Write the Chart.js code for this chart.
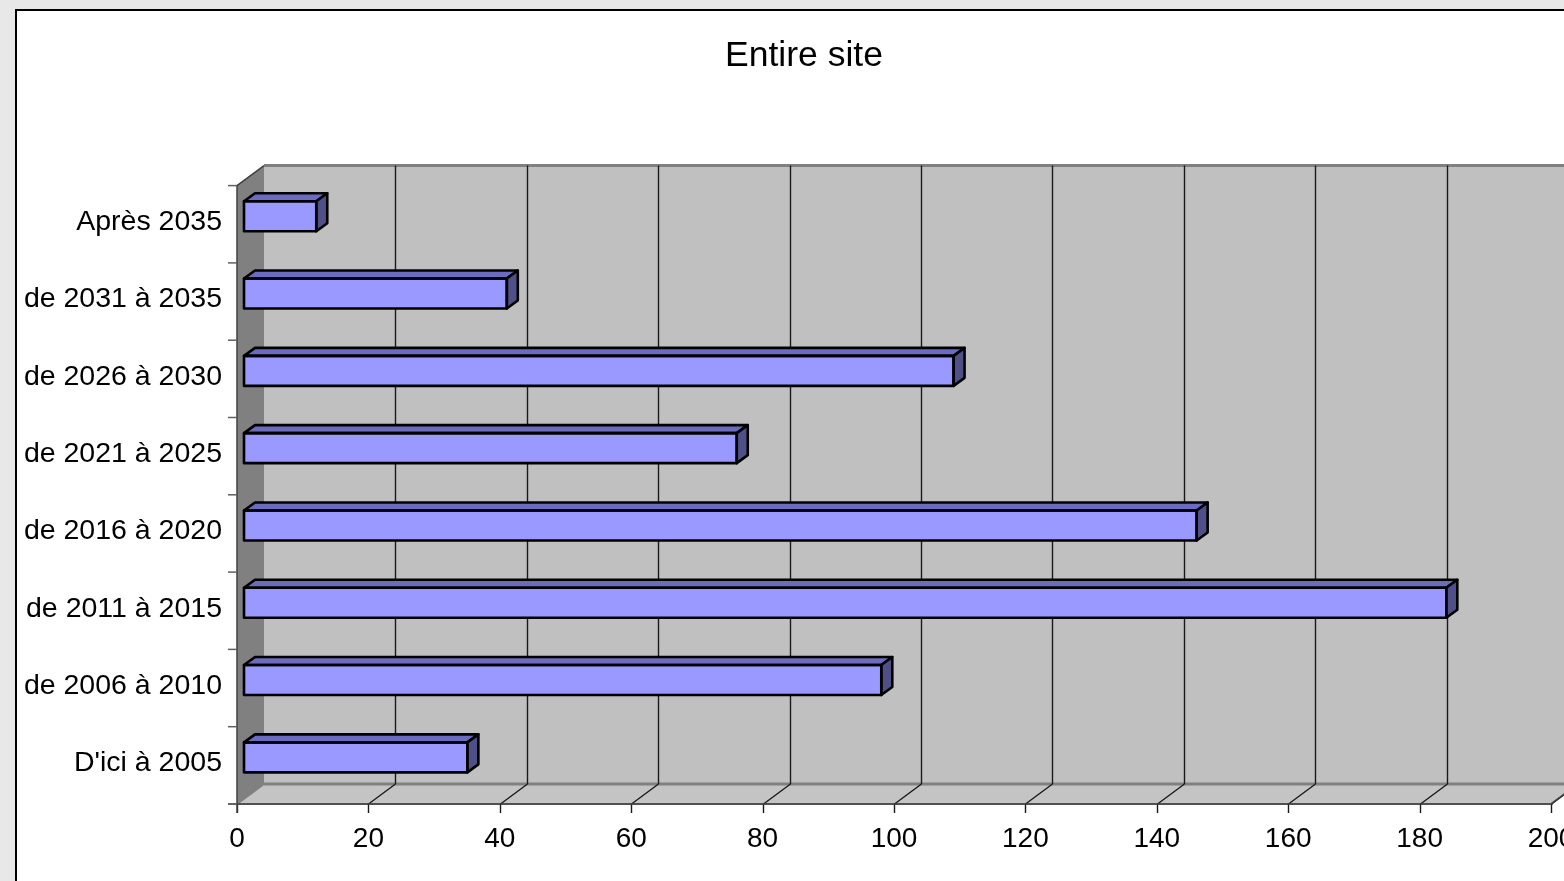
<!DOCTYPE html>
<html>
<head>
<meta charset="utf-8">
<title>Entire site</title>
<script src="https://cdn.jsdelivr.net/npm/chart.js@4"></script>
<style>
    html, body {
        margin: 0;
        padding: 0;
        width: 1564px;
        height: 881px;
        overflow: hidden;
        background: #e8e8e8;
    }
    .frame {
        position: absolute;
        left: 15px;
        top: 9px;
        width: 1700px;
        height: 920px;
        background: #fff;
        border: 2px solid #000;
    }
    #chart {
        position: absolute;
        left: 0;
        top: 0;
    }
</style>
</head>
<body>
<div class="frame"></div>
<canvas id="chart" width="1608" height="900"></canvas>
<script>
// categories, oldest first (axis is reversed so the latest sits on top)
const periods = [
    "D'ici à 2005",
    'de 2006 à 2010',
    'de 2011 à 2015',
    'de 2016 à 2020',
    'de 2021 à 2025',
    'de 2026 à 2030',
    'de 2031 à 2035',
    'Après 2035'
];
const counts = [34, 97, 183, 145, 75, 108, 40, 11];
const xTicks = [0, 20, 40, 60, 80, 100, 120, 140, 160, 180, 200];

// 3D look: offsets from the bar plane to the front / back planes
const FRONT = { x: -7, y: 8 };
const BACK = { x: 20, y: -12 };
const BAR_DEPTH = { x: 11, y: -8 };

const fontFamily = '"Liberation Sans", Arial, sans-serif';

const walls3d = {
    id: 'walls3d',
    beforeDatasetsDraw(chart) {
        const { ctx, chartArea: a, scales } = chart;
        const fl = a.left + FRONT.x, ft = a.top + FRONT.y, fb = a.bottom + FRONT.y;
        const fr = a.right + FRONT.x;
        const bl = a.left + BACK.x, bt = a.top + BACK.y, bb = a.bottom + BACK.y;
        const br = a.right + BACK.x;
        ctx.save();

        // back wall
        ctx.fillStyle = '#c0c0c0';
        ctx.fillRect(bl, bt, br - bl + 200, bb - bt);

        // floor
        ctx.beginPath();
        ctx.moveTo(fl, fb);
        ctx.lineTo(fr, fb);
        ctx.lineTo(br, bb);
        ctx.lineTo(bl, bb);
        ctx.closePath();
        ctx.fillStyle = '#c4c4c4';
        ctx.fill();
        ctx.strokeStyle = '#808080';
        ctx.lineWidth = 2;
        ctx.stroke();

        // left side wall
        ctx.beginPath();
        ctx.moveTo(fl, ft);
        ctx.lineTo(bl, bt);
        ctx.lineTo(bl, bb);
        ctx.lineTo(fl, fb);
        ctx.closePath();
        ctx.fillStyle = '#808080';
        ctx.fill();

        // back wall top and bottom edges
        ctx.strokeStyle = '#808080';
        ctx.lineWidth = 3;
        ctx.beginPath();
        ctx.moveTo(bl, bt);
        ctx.lineTo(br + 200, bt);
        ctx.moveTo(bl, bb);
        ctx.lineTo(br + 200, bb);
        ctx.stroke();

        // gridlines on the back wall + floor diagonals
        const x = scales.x;
        ctx.strokeStyle = '#1a1a1a';
        ctx.lineWidth = 1.4;
        xTicks.forEach(v => {
            const px = Math.round(x.getPixelForValue(v)) + 0.5;
            ctx.beginPath();
            if (v > 0 && v < 200) {
                ctx.moveTo(px + BACK.x, bt);
                ctx.lineTo(px + BACK.x, bb);
            }
            if (v > 0) {
                ctx.moveTo(px + FRONT.x, fb);
                ctx.lineTo(px + BACK.x, bb);
            }
            // tick mark below the front edge
            ctx.moveTo(px + FRONT.x, fb);
            ctx.lineTo(px + FRONT.x, fb + 9);
            ctx.stroke();
        });

        // front edges of the axes
        ctx.strokeStyle = '#404040';
        ctx.lineWidth = 1.5;
        ctx.beginPath();
        ctx.moveTo(fl - 9, fb);
        ctx.lineTo(fr + 2, fb);
        ctx.moveTo(fl, ft);
        ctx.lineTo(fl, fb + 9);
        ctx.moveTo(fl, ft);
        ctx.lineTo(bl, bt);
        ctx.moveTo(fr, fb);
        ctx.lineTo(br, bb);
        ctx.stroke();

        // category tick marks on the left
        ctx.strokeStyle = '#606060';
        ctx.lineWidth = 1.5;
        const band = (fb - ft) / periods.length;
        for (let i = 0; i <= periods.length; i++) {
            const py = ft + band * i;
            ctx.beginPath();
            ctx.moveTo(fl - 9, py);
            ctx.lineTo(fl, py);
            ctx.stroke();
        }
        ctx.restore();
    },
    afterDatasetsDraw(chart) {
        const { ctx } = chart;
        const meta = chart.getDatasetMeta(0);
        ctx.save();
        ctx.lineWidth = 2.6;
        ctx.strokeStyle = '#000';
        ctx.lineJoin = 'round';
        meta.data.forEach(el => {
            const x0 = el.base, x1 = el.x;
            const top = el.y - el.height / 2, bot = el.y + el.height / 2;
            const dx = BAR_DEPTH.x, dy = BAR_DEPTH.y;
            // top face
            ctx.beginPath();
            ctx.moveTo(x0, top);
            ctx.lineTo(x0 + dx, top + dy);
            ctx.lineTo(x1 + dx, top + dy);
            ctx.lineTo(x1, top);
            ctx.closePath();
            ctx.fillStyle = '#6b6bbf';
            ctx.fill();
            ctx.stroke();
            // side face
            ctx.beginPath();
            ctx.moveTo(x1, top);
            ctx.lineTo(x1 + dx, top + dy);
            ctx.lineTo(x1 + dx, bot + dy);
            ctx.lineTo(x1, bot);
            ctx.closePath();
            ctx.fillStyle = '#505088';
            ctx.fill();
            ctx.stroke();
            // front face outline
            ctx.strokeRect(x0, top, x1 - x0, bot - top);
        });
        ctx.restore();
    }
};

new Chart(document.getElementById('chart'), {
    type: 'bar',
    data: {
        labels: periods,
        datasets: [{
            label: 'Entire site',
            data: counts,
            backgroundColor: '#9999ff',
            borderWidth: 0,
            barThickness: 30
        }]
    },
    options: {
        indexAxis: 'y',
        responsive: false,
        animation: false,
        layout: {
            padding: 0
        },
        plugins: {
            legend: { display: false },
            tooltip: { enabled: false },
            title: {
                display: true,
                text: 'Entire site',
                color: '#000',
                font: { family: fontFamily, size: 35.5, weight: 'normal' },
                padding: { top: 35, bottom: 100 }
            }
        },
        scales: {
            x: {
                min: 0,
                max: 200,
                grid: { display: false, drawTicks: false },
                border: { display: false },
                ticks: {
                    stepSize: 20,
                    color: '#000',
                    padding: 26,
                    labelOffset: FRONT.x,
                    maxRotation: 0,
                    font: { family: fontFamily, size: 28 }
                },
                afterFit(scale) { scale.height = 104; }
            },
            y: {
                reverse: true,
                grid: { display: false, drawTicks: false },
                border: { display: false },
                ticks: {
                    color: '#000',
                    padding: 22,
                    labelOffset: 6,
                    font: { family: fontFamily, size: 28.5 }
                },
                afterFit(scale) { scale.width = 244; }
            },
            // empty spacer on the right, keeps the title centred like the original
            spacer: {
                type: 'linear',
                axis: 'y',
                position: 'right',
                grid: { display: false, drawTicks: false },
                border: { display: false },
                ticks: { display: false },
                afterFit(scale) { scale.width = 50; }
            }
        }
    },
    plugins: [walls3d]
});
</script>
</body>
</html>
